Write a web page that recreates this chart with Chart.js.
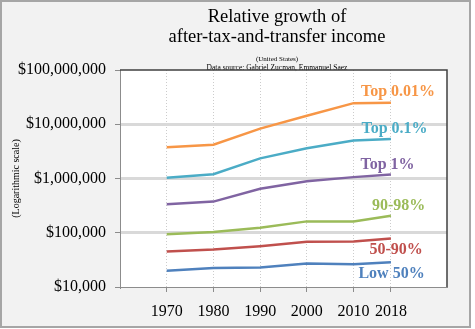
<!DOCTYPE html>
<html>
<head>
<meta charset="utf-8">
<script src="https://cdn.jsdelivr.net/npm/chart.js@4"></script>
<style>
    html, body { margin: 0; padding: 0; background: #ffffff; }
    #frame {
        position: absolute; left: 0; top: 0;
        width: 471px; height: 328px;
        box-sizing: border-box;
        border: 2px solid #a6a6a6;
        background: #f2f2f2;
    }
    #chart { display: block; }
</style>
</head>
<body>
<div id="frame">
    <canvas id="chart" width="467" height="324"></canvas>
</div>
<script>
    // data
    const years = [1970, 1980, 1990, 2000, 2010, 2018];
    const groups = ['Top 0.01%', 'Top 0.1%', 'Top 1%', '90-98%', '50-90%', 'Low 50%'];

    const top001 = [3750000, 4200000, 8300000, 14300000, 24500000, 25000000];
    const top01 = [1030000, 1200000, 2350000, 3600000, 5000000, 5350000];
    const top1 = [335000, 375000, 645000, 890000, 1060000, 1190000];
    const p90to98 = [94000, 103000, 124000, 162000, 162000, 206000];
    const p50to90 = [45000, 49000, 56600, 68000, 68800, 78500];
    const low50 = [20000, 22500, 22800, 27000, 26300, 28700];

    const yTicks = [10000, 100000, 1000000, 10000000, 100000000];

    const titleLines = ['Relative growth of', 'after-tax-and-transfer income'];
    const subtitleLines = ['(United States)', 'Data source: Gabriel Zucman, Emmanuel Saez'];

    const colors = ['#F79646', '#4BACC6', '#8064A2', '#9BBB59', '#C0504D', '#4F81BD'];
    // label offset (px) from the last point of each line
    const labelShift = [[-30, -11], [-29.5, -10], [-30.5, -9.5], [-19, -10], [-21.5, 11], [-32.5, 12]];

    const serif = "'Liberation Serif', 'Times New Roman', serif";

    const seriesValues = [top001, top01, top1, p90to98, p50to90, low50];

    const datasets = groups.map((name, i) => ({
        label: name,
        data: years.map((yr, j) => ({ x: yr, y: seriesValues[i][j] })),
        borderColor: colors[i],
        backgroundColor: colors[i],
        borderWidth: 2.5,
        pointRadius: 0,
        tension: 0,
        fill: false
    }));

    const plotDecor = {
        id: 'plotDecor',
        beforeDraw(chart) {
            const { ctx, chartArea: a } = chart;
            ctx.save();
            ctx.fillStyle = '#ffffff';
            ctx.fillRect(a.left, a.top, a.right - a.left, a.bottom - a.top);

            // heading, centred a little left of the plot centre like the original
            const cx = 275;
            ctx.fillStyle = '#000000';
            ctx.textAlign = 'center';
            ctx.textBaseline = 'middle';
            ctx.font = '18.5px ' + serif;
            ctx.fillText(titleLines[0], cx, 15);
            ctx.fillText(titleLines[1], cx, 35);
            ctx.font = '7px ' + serif;
            ctx.fillText(subtitleLines[0], cx, 57);
            ctx.font = '7.5px ' + serif;
            ctx.fillText(subtitleLines[1], cx, 66);
            ctx.restore();
        },
        afterDatasetsDraw(chart) {
            const { ctx, chartArea: a } = chart;
            ctx.save();
            ctx.strokeStyle = '#404040';
            ctx.lineWidth = 1.5;
            ctx.beginPath();
            ctx.moveTo(a.left, a.top);
            ctx.lineTo(a.right, a.top);
            ctx.lineTo(a.right, a.bottom);
            ctx.stroke();

            // series names next to the line ends
            ctx.font = "bold 16px " + serif;
            ctx.textAlign = 'left';
            ctx.textBaseline = 'middle';
            chart.data.datasets.forEach((ds, i) => {
                const last = ds.data[ds.data.length - 1];
                const px = chart.scales.x.getPixelForValue(last.x) + labelShift[i][0];
                const py = chart.scales.y.getPixelForValue(last.y) + labelShift[i][1];
                ctx.fillStyle = colors[i];
                ctx.fillText(ds.label, px, py);
            });
            ctx.restore();
        }
    };

    const ctx = document.getElementById('chart').getContext('2d');
    const chart = new Chart(ctx, {
        type: 'line',
        data: { datasets: datasets },
        options: {
            responsive: false,
            animation: false,
            layout: { padding: { left: 0, right: 22, top: 68, bottom: 0 } },
            plugins: {
                legend: { display: false },
                tooltip: { enabled: false },
                title: { display: false }
            },
            scales: {
                x: {
                    type: 'linear',
                    min: 1960,
                    max: 2030,
                    afterBuildTicks: scale => {
                        scale.ticks = years.map(v => ({ value: v }));
                    },
                    afterFit: scale => { scale.height = 39; },
                    ticks: {
                        color: '#000000',
                        font: { family: serif, size: 16 },
                        padding: 10,
                        maxRotation: 0,
                        autoSkip: false,
                        callback: v => String(v)
                    },
                    grid: {
                        color: '#cccccc',
                        lineWidth: 1,
                        tickLength: 5,
                        tickColor: '#8c8c8c',
                        tickBorderDash: []
                    },
                    border: { color: '#8c8c8c', width: 1, dash: [1, 2] }
                },
                y: {
                    type: 'logarithmic',
                    min: 10000,
                    max: 100000000,
                    afterBuildTicks: scale => {
                        scale.ticks = yTicks.map(v => ({ value: v }));
                    },
                    afterFit: scale => { scale.width = 118; },
                    ticks: {
                        color: '#000000',
                        font: { family: serif, size: 16 },
                        padding: 9,
                        autoSkip: false,
                        callback: v => '$' + Number(v).toLocaleString('en-US')
                    },
                    grid: {
                        color: c => (c.tick && (c.tick.value === 10000 || c.tick.value === 100000000)) ? 'rgba(0,0,0,0)' : '#d9d9d9',
                        lineWidth: 3,
                        tickLength: 5,
                        tickColor: '#8c8c8c',
                        tickWidth: 1
                    },
                    border: { color: '#8c8c8c', width: 1 },
                    title: {
                        display: true,
                        text: '(Logarithmic scale)',
                        color: '#000000',
                        font: { family: serif, size: 10 },
                        padding: { top: 8, bottom: 0 }
                    }
                }
            }
        },
        plugins: [plotDecor]
    });
</script>
</body>
</html>
